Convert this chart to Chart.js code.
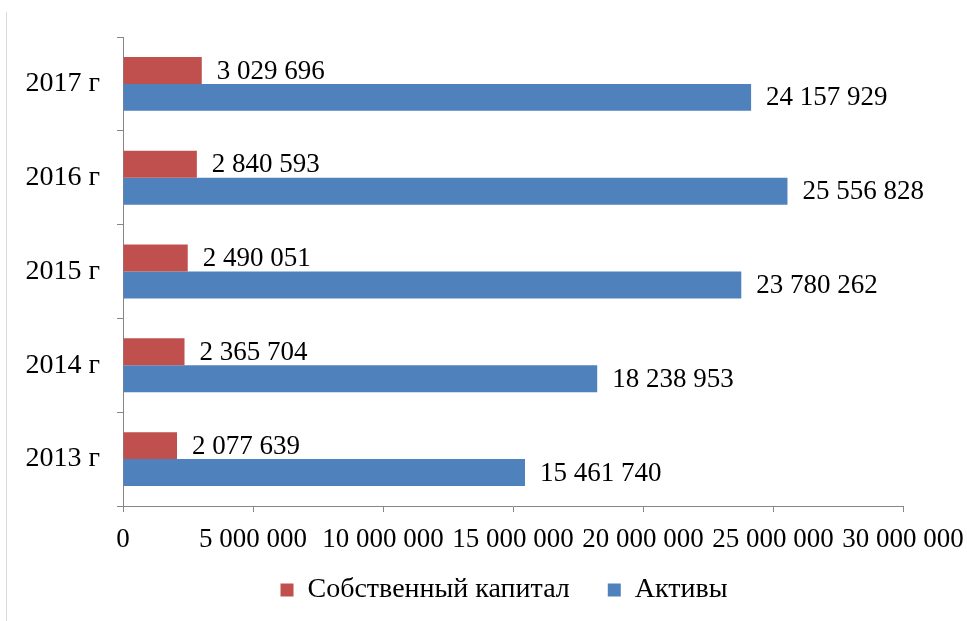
<!DOCTYPE html>
<html>
<head>
<meta charset="utf-8">
<script src="https://cdn.jsdelivr.net/npm/chart.js@4"></script>
<style>
    html, body { margin: 0; padding: 0; background: #ffffff; }
    #wrap { width: 967px; height: 621px; }
</style>
</head>
<body>
<div id="wrap"><canvas id="chart"></canvas></div>
<script>
// данные (сверху вниз, как на диаграмме)
const years = ['2017 г', '2016 г', '2015 г', '2014 г', '2013 г'];
const equity = [3029696, 2840593, 2490051, 2365704, 2077639];
const assets = [24157929, 25556828, 23780262, 18238953, 15461740];
const xTicks = [0, 5000000, 10000000, 15000000, 20000000, 25000000, 30000000];

const FONT = 'Liberation Serif';
const axisColor = '#868686';

function fmt(v) {
    return String(v).replace(/\B(?=(\d{3})+(?!\d))/g, ' ');
}

// подписи значений справа от полос
const valueLabels = {
    id: 'valueLabels',
    afterDatasetsDraw(chart) {
        const ctx = chart.ctx;
        ctx.save();
        ctx.font = '27px "' + FONT + '"';
        ctx.fillStyle = '#000000';
        ctx.textAlign = 'left';
        ctx.textBaseline = 'middle';
        chart.data.datasets.forEach((ds, i) => {
            chart.getDatasetMeta(i).data.forEach((bar, j) => {
                ctx.fillText(fmt(ds.data[j]), bar.x + 15, bar.y + 1);
            });
        });
        ctx.restore();
    }
};

// тонкая рамка слева
const frame = {
    id: 'frame',
    beforeDraw(chart) {
        const ctx = chart.ctx;
        ctx.save();
        ctx.strokeStyle = '#d9d9d9';
        ctx.lineWidth = 1;
        ctx.beginPath();
        ctx.moveTo(6.5, 12);
        ctx.lineTo(6.5, 621);
        ctx.stroke();
        ctx.restore();
    }
};

// легенда: широкий отступ между пунктами, но компактная по высоте
const legendPlace = {
    id: 'legendPlace',
    beforeUpdate(chart) {
        const lg = chart.legend;
        if (lg && !lg._patched) {
            const fit = lg.fit.bind(lg);
            lg.fit = function() {
                fit();
                this.height = 56;
            };
            lg._patched = true;
        }
    },
    afterLayout(chart) {
        const lg = chart.legend;
        lg.top = 538;
        lg.bottom = 614;
        lg.height = 76;
        lg.left = 105;
        lg.right = 903;
        lg.width = 798;
    }
};

Chart.defaults.font.family = FONT;
Chart.defaults.font.size = 27;
Chart.defaults.color = '#000000';

new Chart(document.getElementById('chart'), {
    type: 'bar',
    data: {
        labels: years,
        datasets: [
            {
                label: 'Собственный капитал',
                data: equity,
                backgroundColor: '#C0504D',
                barPercentage: 1,
                categoryPercentage: 0.575
            },
            {
                label: 'Активы',
                data: assets,
                backgroundColor: '#4F81BD',
                barPercentage: 1,
                categoryPercentage: 0.575
            }
        ]
    },
    options: {
        indexAxis: 'y',
        responsive: true,
        maintainAspectRatio: false,
        animation: false,
        layout: {
            padding: { left: 10, right: 64, top: 37, bottom: 7 }
        },
        plugins: {
            legend: {
                position: 'bottom',
                labels: {
                    boxWidth: 13,
                    boxHeight: 13,
                    padding: 38,
                    font: { size: 28 }
                }
            },
            tooltip: { enabled: false }
        },
        scales: {
            x: {
                min: 0,
                max: 30000000,
                afterBuildTicks(scale) {
                    scale.ticks = xTicks.map(v => ({ value: v }));
                },
                afterFit(scale) {
                    scale.height = 52;
                    scale.paddingLeft = 0;
                    scale.paddingRight = 0;
                },
                grid: {
                    drawOnChartArea: false,
                    tickLength: 6,
                    color: axisColor
                },
                border: { color: axisColor },
                ticks: {
                    autoSkip: false,
                    maxRotation: 0,
                    padding: 12,
                    callback: v => fmt(v)
                }
            },
            y: {
                afterFit(scale) {
                    scale.width = 113;
                },
                grid: {
                    drawOnChartArea: false,
                    tickLength: 6,
                    color: axisColor
                },
                border: { color: axisColor },
                ticks: {
                    padding: 17,
                    font: { size: 28 }
                }
            }
        }
    },
    plugins: [valueLabels, frame, legendPlace]
});
</script>
</body>
</html>
